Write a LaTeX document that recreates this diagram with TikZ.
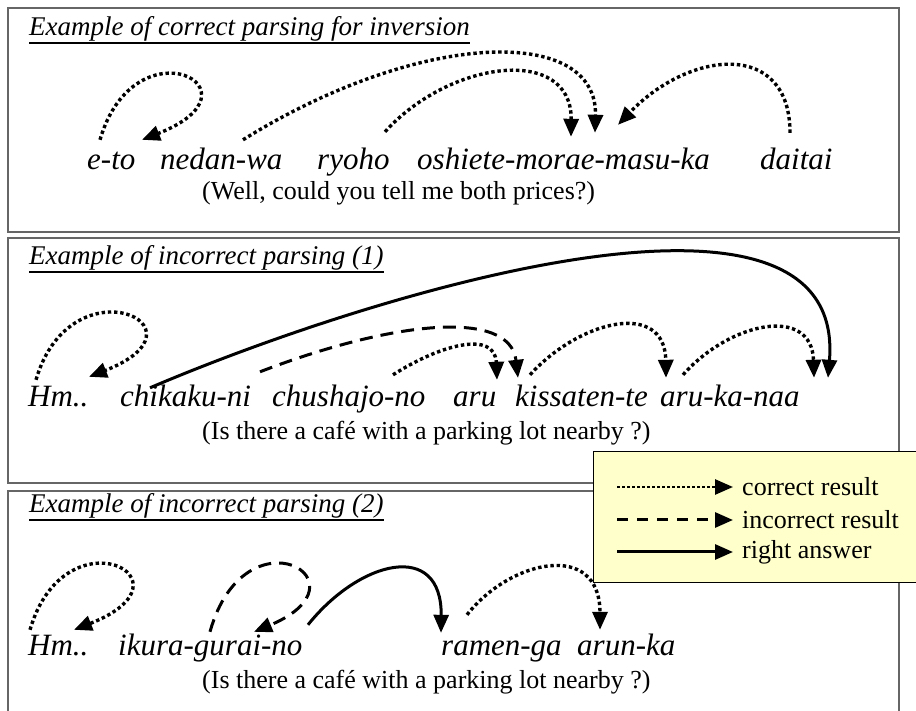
\documentclass[tikz,border=0pt]{standalone}
\usepackage{fontspec}
\setmainfont{Liberation Serif}
\usetikzlibrary{arrows.meta}
\definecolor{notefill}{RGB}{255,255,204}
\tikzset{
  word/.style={anchor=base west, inner sep=0pt, text height=22pt, text depth=7pt, font=\fontsize{31}{31}\selectfont\itshape},
  gloss/.style={anchor=base west, inner sep=0pt, font=\fontsize{26}{26}\selectfont},
  heading/.style={anchor=base west, inner sep=0pt, font=\fontsize{27}{27}\selectfont\itshape},
  keytext/.style={anchor=west, inner sep=0pt, font=\fontsize{26}{26}\selectfont},
  frame/.style={draw=black!60, line width=1.2pt},
  good/.style={line width=3.4pt, dash pattern=on 3.4pt off 2.8pt, -{Triangle[length=18pt,width=15pt]}},
  bad/.style={line width=3pt, dash pattern=on 13pt off 8pt, -{Triangle[length=18pt,width=15pt]}},
  answer/.style={line width=3pt, -{Triangle[length=18pt,width=15pt]}},
}

\begin{document}
\begin{tikzpicture}[x=1pt,y=1pt]
	\useasboundingbox (0,0) rectangle (916,710);
	\draw[frame] (8,702) rectangle (899,478);
	\draw[frame] (8,472) rectangle (899,227);
	\draw[frame] (8,219) rectangle (899,-20);

	\path (29,674) node[heading] (ttlA) {Example of correct parsing for inversion}
		(29,445) node[heading] (ttlB) {Example of incorrect parsing (1)}
		(29,197) node[heading] (ttlC) {Example of incorrect parsing (2)};
	\foreach \t in {ttlA,ttlB,ttlC}
		\draw[line width=2.2pt] ([yshift=-7pt]\t.base west) -- ([yshift=-7pt]\t.base east);

	\path (87,540) node[word] (eto) {e-to}
		(160,540) node[word] (nedan) {nedan-wa}
		(317,540) node[word] (ryoho) {ryoho}
		(417,540) node[word] (oshiete) {oshiete-morae-masu-ka}
		(760,540) node[word] (daitai) {daitai}
		(202,510) node[gloss] (glA) {(Well, could you tell me both prices?)};

	\draw[good] ([xshift=13pt,yshift=8pt]eto.north west) .. controls +(35,120) and +(128,50) .. ([xshift=55pt,yshift=8pt]eto.north west);
	\draw[good] ([xshift=83pt,yshift=8pt]nedan.north west) .. controls +(177,110) and +(3,108) .. ([xshift=178pt,yshift=15pt]oshiete.north west);
	\draw[good] ([xshift=68pt,yshift=16pt]ryoho.north west) .. controls +(65,72) and +(1,92) .. ([xshift=154pt,yshift=11pt]oshiete.north west);
	\draw[good] ([xshift=30pt,yshift=15pt]daitai.north west) .. controls +(0,93) and +(72,75) .. ([xshift=201pt,yshift=23pt]oshiete.north west);

	\path (28,303) node[word] (hmB) {Hm..}
		(120,303) node[word] (chikaku) {chikaku-ni}
		(272,303) node[word] (chushajo) {chushajo-no}
		(453,303) node[word] (aruB) {aru}
		(515,303) node[word] (kissaten) {kissaten-te}
		(660,303) node[word] (arukanaa) {aru-ka-naa}
		(202,270) node[gloss] (glB) {(Is there a café with a parking lot nearby ?)};

	\draw[good] ([xshift=8pt,yshift=5pt]hmB.north west) .. controls +(35,120) and +(128,50) .. ([xshift=61pt,yshift=8pt]hmB.north west);
	\draw[answer] ([xshift=30pt,yshift=-3pt]chikaku.north west) .. controls +(230,98) and +(19,228) .. ([xshift=168pt,yshift=7pt]arukanaa.north west);
	\draw[bad] ([xshift=140pt,yshift=13pt]chikaku.north west) .. controls +(130,50) and +(-8,70) .. ([xshift=65pt,yshift=7pt]aruB.north west);
	\draw[good] ([xshift=121pt,yshift=10pt]chushajo.north west) .. controls +(47,30) and +(-2,50) .. ([xshift=44pt,yshift=5pt]aruB.north west);
	\draw[good] ([xshift=77pt,yshift=10pt]aruB.north west) .. controls +(50,55) and +(-1,78) .. ([xshift=151pt,yshift=7pt]kissaten.north west);
	\draw[good] ([xshift=23pt,yshift=10pt]arukanaa.north west) .. controls +(47,53) and +(-2,73) .. ([xshift=154pt,yshift=7pt]arukanaa.north west);

	\path (28,55) node[word] (hmC) {Hm..}
		(118,55) node[word] (ikura) {ikura-gurai-no}
		(441,55) node[word] (ramen) {ramen-ga}
		(577,55) node[word] (arun) {arun-ka}
		(202,22) node[gloss] (glC) {(Is there a café with a parking lot nearby ?)};

	\draw[good] ([xshift=2pt,yshift=3pt]hmC.north west) .. controls +(35,120) and +(128,50) .. ([xshift=46pt,yshift=3pt]hmC.north west);
	\draw[bad] ([xshift=92pt,yshift=1pt]ikura.north west) .. controls +(35,125) and +(120,50) .. ([xshift=136pt,yshift=1pt]ikura.north west);
	\draw[answer] ([xshift=190pt,yshift=8pt]ikura.north west) .. controls +(52,65) and +(1,93) .. (ramen.north west);
	\draw[good] ([xshift=26pt,yshift=18pt]ramen.north west) .. controls +(43,55) and +(0,90) .. ([xshift=23pt,yshift=3pt]arun.north west);

	\draw[black, line width=1pt, fill=notefill] (593,258) rectangle (925,127);
	\path (742,223) node[keytext] (keyA) {correct result}
		(742,190) node[keytext] (keyB) {incorrect result}
		(742,158) node[keytext] (keyC) {right answer};
	\coordinate (fromA) at (617,223);
	\coordinate (fromB) at (617,190);
	\coordinate (fromC) at (617,158);
	\draw[good, line width=2.6pt, dash pattern=on 2.6pt off 2.4pt] (fromA) -- ([xshift=-9pt]keyA.west);
	\draw[bad, dash pattern=on 11pt off 9pt] (fromB) -- ([xshift=-9pt]keyB.west);
	\draw[answer] (fromC) -- ([xshift=-9pt]keyC.west);
\end{tikzpicture}
\end{document}
